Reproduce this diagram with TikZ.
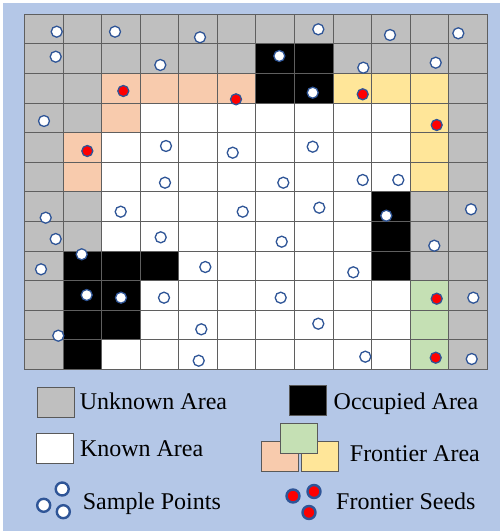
\documentclass[tikz,border=0pt]{standalone}
\usepackage{fontspec}
\setmainfont{Liberation Serif}
\usepackage{xcolor}
\usetikzlibrary{positioning}

\definecolor{bgblue}{HTML}{B4C7E7}
\definecolor{ukngray}{HTML}{BFBFBF}
\definecolor{peach}{HTML}{F8CBAD}
\definecolor{sand}{HTML}{FFE699}
\definecolor{sage}{HTML}{C5E0B4}
\definecolor{ptblue}{HTML}{2F5597}
\definecolor{gridln}{HTML}{5F5F5F}

\begin{document}
\begin{tikzpicture}[
      x=1bp, y=-1bp,
      gline/.style={draw=gridln, line width=0.9bp},
      spt/.style={circle, draw=ptblue, fill=white, line width=1.3bp, inner sep=0pt, minimum size=11bp},
      seed/.style={spt, fill=red},
      bigspt/.style={spt, line width=2.4bp, minimum size=13bp},
      bigseed/.style={bigspt, fill=red},
      key/.style={draw=gray!70!black, line width=0.6bp, minimum width=37bp, minimum height=30bp, inner sep=0pt},
      lbl/.style={font=\fontsize{24bp}{28bp}\selectfont, inner sep=0pt, text height=16bp, text depth=5bp}
    ]
    \useasboundingbox (0,0) rectangle (500,531);
    \fill[bgblue] (3,3) rectangle (500,531);

    \begin{scope}[shift={(24.5,14.3)}, x=38.57bp, y=-29.6bp]
      \fill[ukngray] (0,0) rectangle (12,12);
      \fill[white] (2,3) rectangle (10,12);
      \foreach \c/\r in {2/2,3/2,4/2,5/2,2/3,1/4,1/5}
        \fill[peach] (\c,\r) rectangle ++(1,1);
      \foreach \c/\r in {8/2,9/2,10/2,10/3,10/4,10/5}
        \fill[sand] (\c,\r) rectangle ++(1,1);
      \foreach \c/\r in {10/9,10/10,10/11}
        \fill[sage] (\c,\r) rectangle ++(1,1);
      \foreach \c/\r in {6/1,7/1,6/2,7/2,9/6,9/7,9/8,1/8,2/8,3/8,1/9,2/9,1/10,2/10,1/11}
        \fill[black] (\c,\r) rectangle ++(1,1);
      \foreach \k in {0,...,12} {
        \draw[gline] (\k,0) -- (\k,12);
        \draw[gline] (0,\k) -- (12,\k);
      }
    \end{scope}

    \foreach \px/\py [count=\i] in {56.7/31.7, 115/31.7, 200/37.3, 55.7/56.7, 160.3/65, 44/121,
        166/146, 232.7/152.7, 165/182.7, 318.3/29.3, 390/35, 458.3/33.3, 279.3/56, 363.3/67.7,
        435.7/62.7, 312.7/92.7, 312.7/146.7, 283.3/182.7, 362.7/180, 398.3/180, 45.7/217.7,
        120.7/211.7, 242.7/211.7, 55.7/239, 160.7/237.3, 81.7/254.3, 41/269.3, 205.3/267,
        86.7/295, 121/297.7, 164/297.7, 58.3/335.7, 201.3/329.3, 198.7/360.7, 319.3/207.7,
        386.3/215.7, 471/209.3, 281.7/241.7, 434.3/245.7, 353.3/272.3, 280.7/297.7,
        473.3/297.7, 318.3/323.7, 365.3/356.7, 471.7/359}
      \node[spt] (pt\i) at (\px,\py) {};
    \foreach \px/\py [count=\i] in {123.3/91, 236/99.3, 87.3/151, 362.7/94.3, 436.7/125,
        436.7/298.7, 435.7/357.7}
      \node[seed] (fs\i) at (\px,\py) {};

    \node[key, fill=ukngray] (ukn) at (55.8,402.3) {};
    \node[lbl, right=5bp of ukn, yshift=-2bp] (ukntxt) {Unknown Area};
    \node[key, fill=black] (occ) at (307.7,400.7) {};
    \node[lbl, right=7bp of occ, yshift=-3bp] (occtxt) {Occupied Area};
    \node[key, fill=white] (kno) at (55,448.3) {};
    \node[lbl, right=6bp of kno, yshift=-3bp] (knotxt) {Known Area};

    \node[key, fill=peach] (frl) at (280,456.7) {};
    \node[key, fill=sand, right=1.7bp of frl] (frr) {};
    \node[key, fill=sage] (frt) at (298.3,438.3) {};
    \node[lbl, right=11.6bp of frr, yshift=1bp] (frtxt) {Frontier Area};

    \node[bigspt] (smp1) at (43.7,505.3) {};
    \node[bigspt] (smp2) at (62.2,489) {};
    \node[bigspt] (smp3) at (63.3,511.7) {};
    \node[lbl, anchor=west] (smptxt) at (82.7,503.8) {Sample Points};

    \node[bigseed] (sd1) at (293,496) {};
    \node[bigseed] (sd2) at (314,491.5) {};
    \node[bigseed] (sd3) at (309,512.5) {};
    \node[lbl, anchor=west] (sdtxt) at (336,503.5) {Frontier Seeds};
  \end{tikzpicture}
\end{document}
